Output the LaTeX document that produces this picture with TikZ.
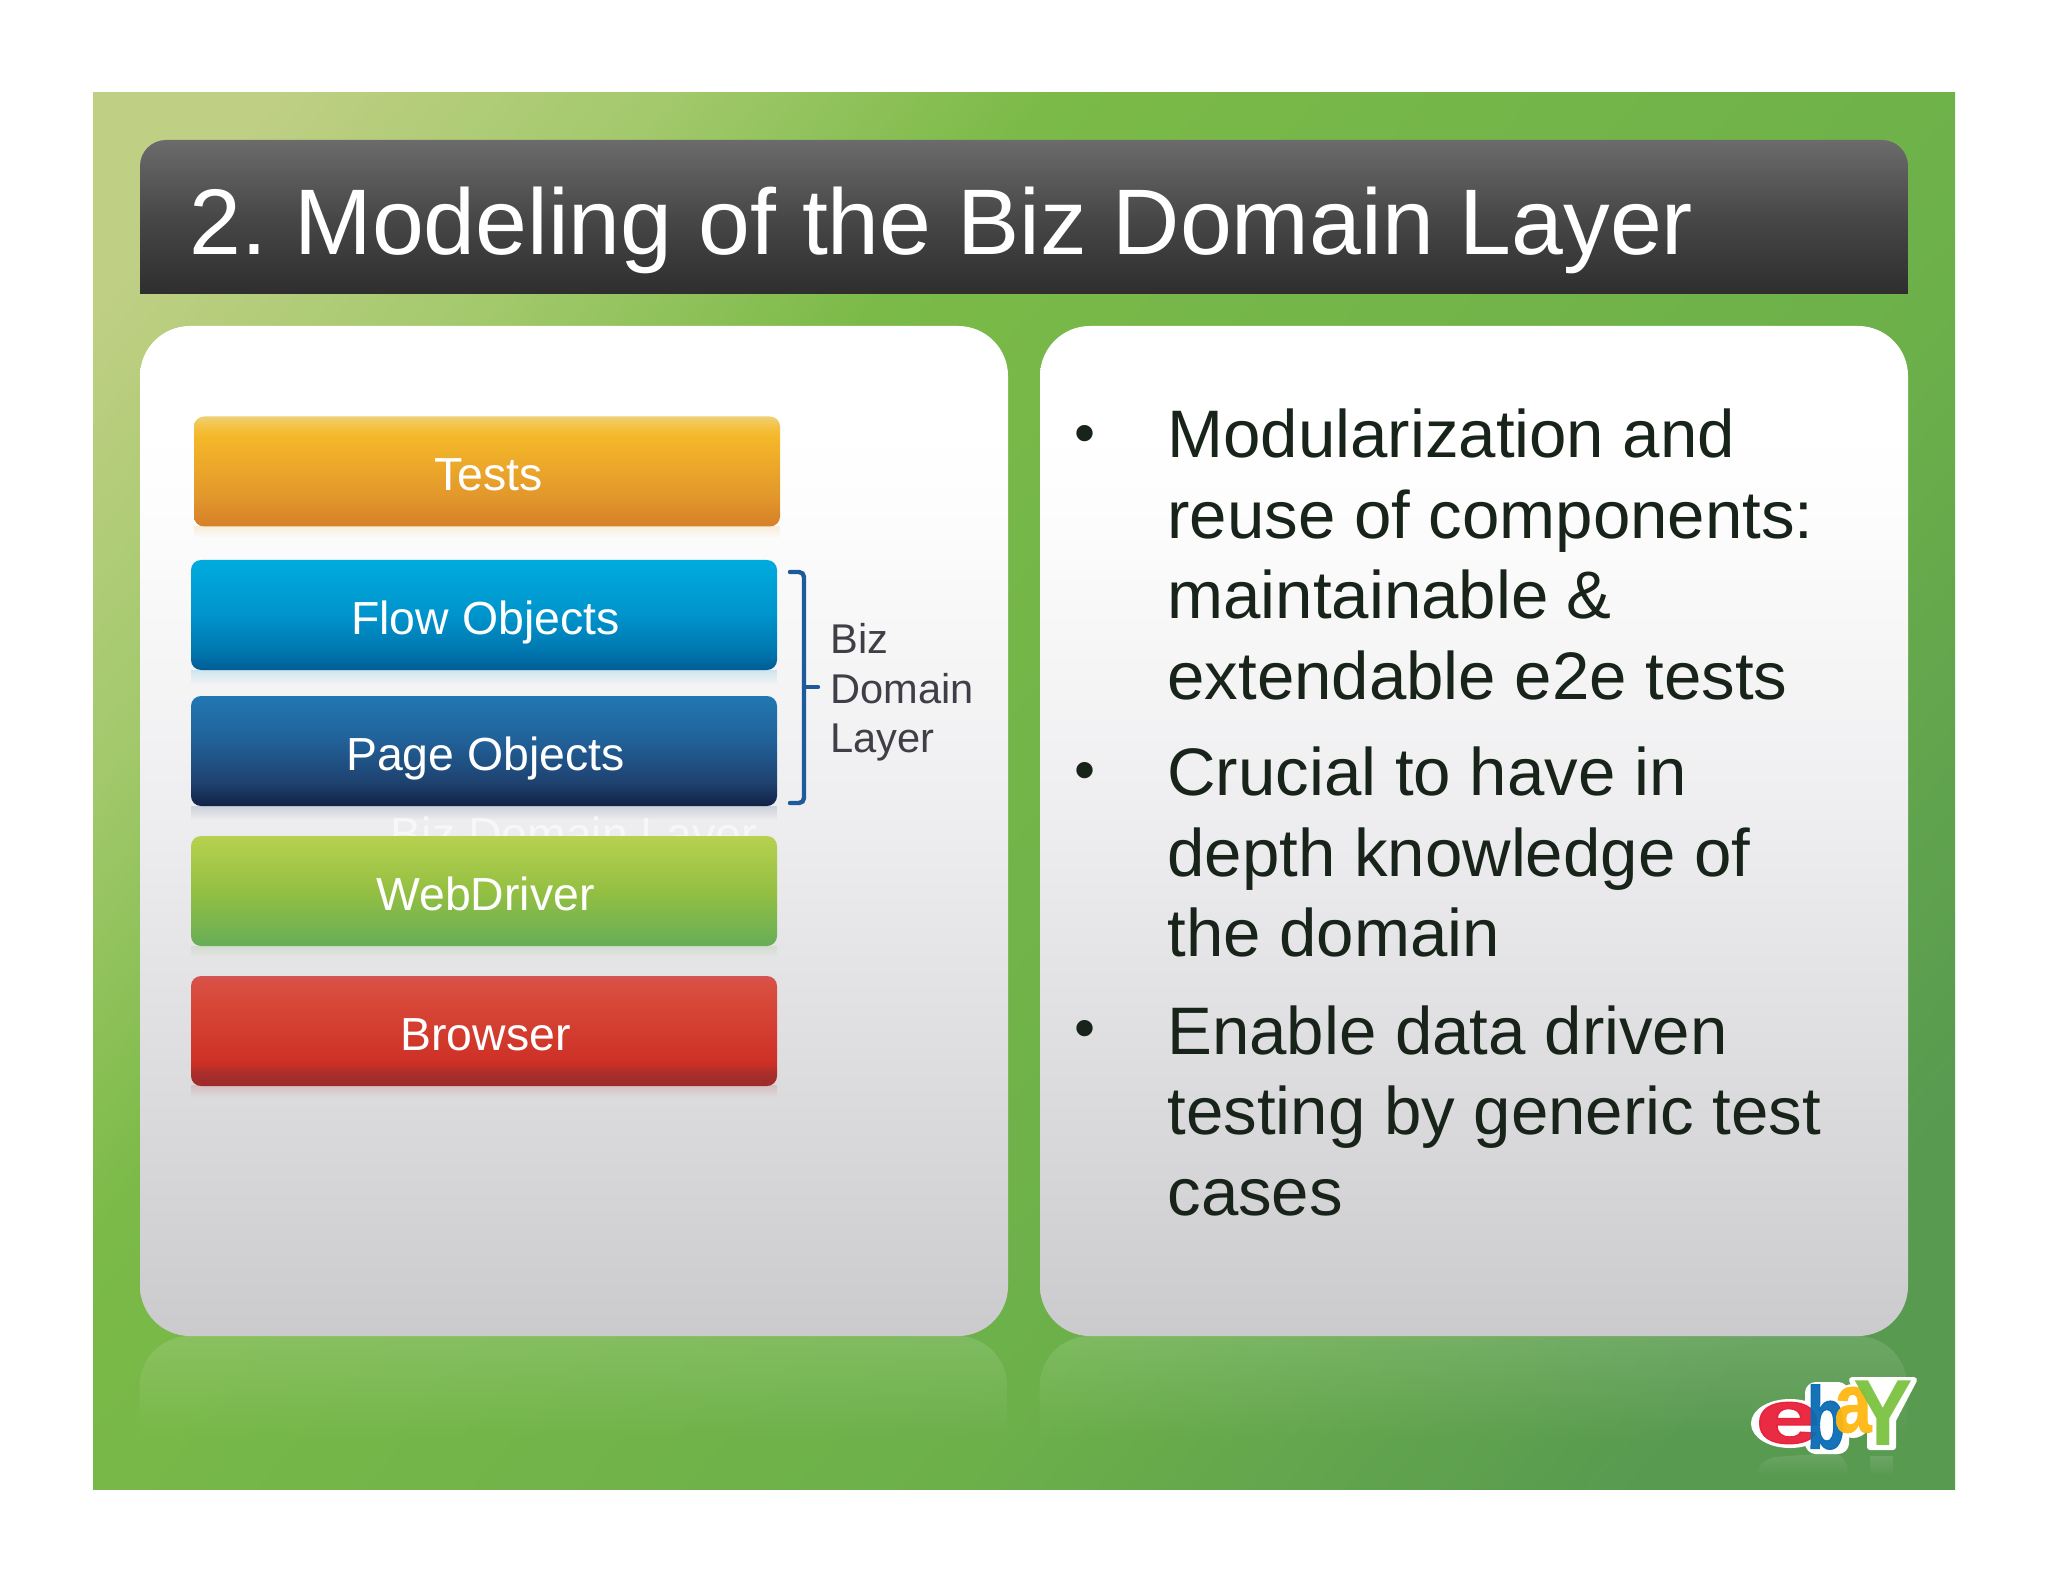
\documentclass[tikz,border=0pt]{standalone}
\usepackage{fontspec}
\usepackage{graphicx}
\setmainfont{Liberation Sans}
\usetikzlibrary{fadings}
% --- colours
\definecolor{bgA}{HTML}{BFCF84}\definecolor{bgB}{HTML}{A3C96C}\definecolor{bgC}{HTML}{7BBA48}\definecolor{bgD}{HTML}{6CB04A}\definecolor{bgE}{HTML}{589A50}
\definecolor{bodyink}{HTML}{18241A}
\definecolor{labelink}{HTML}{3F3F47}
\definecolor{bracketblue}{HTML}{1F5A9A}
\definecolor{testtint}{HTML}{E8A030}
\definecolor{flowtint}{HTML}{0090C8}
\definecolor{pagetint}{HTML}{1C4070}
\definecolor{webtint}{HTML}{80B050}
\definecolor{browsertint}{HTML}{C03028}
\definecolor{ghostink}{HTML}{F7F7F8}
\definecolor{logored}{HTML}{E8203A}
\definecolor{logoblue}{HTML}{0A6CB4}
\definecolor{logoyellow}{HTML}{FFB812}
\definecolor{logogreen}{HTML}{7CC242}
\definecolor{panelA}{HTML}{CBCACD}\definecolor{panelB}{HTML}{DCDCDE}\definecolor{panelC}{HTML}{EDEDEF}\definecolor{panelD}{HTML}{FDFDFD}
% --- shadings: the path fills the range 25bp..75bp
\pgfdeclareverticalshading{bgshade}{100bp}{color(0bp)=(bgE);color(22bp)=(bgE);color(38bp)=(bgD);color(63bp)=(bgC);color(72bp)=(bgB);color(81bp)=(bgA);color(100bp)=(bgA)}
\pgfdeclareverticalshading{titleshade}{100bp}{color(0bp)=(black!82);color(25bp)=(black!82);color(50bp)=(black!72);color(75bp)=(black!58);color(100bp)=(black!58)}
\pgfdeclareverticalshading{panelshade}{100bp}{color(0bp)=(panelA);color(25bp)=(panelA);color(37.5bp)=(panelB);color(50bp)=(panelC);color(66bp)=(panelD);color(70bp)=(white);color(100bp)=(white)}
\pgfdeclareverticalshading{testsshade}{100bp}{rgb(0bp)=(.84,.50,.16);rgb(25bp)=(.84,.50,.16);rgb(40bp)=(.89,.60,.17);rgb(66bp)=(.96,.72,.16);rgb(70bp)=(.96,.75,.25);rgb(75bp)=(.93,.82,.45);rgb(100bp)=(.93,.82,.45)}
\pgfdeclareverticalshading{flowshade}{100bp}{rgb(0bp)=(0,.36,.58);rgb(25bp)=(0,.36,.58);rgb(33bp)=(0,.46,.68);rgb(50bp)=(0,.58,.80);rgb(75bp)=(0,.67,.87);rgb(100bp)=(0,.67,.87)}
\pgfdeclareverticalshading{pageshade}{100bp}{rgb(0bp)=(.07,.13,.27);rgb(25bp)=(.07,.13,.27);rgb(36bp)=(.12,.26,.44);rgb(55bp)=(.13,.38,.60);rgb(75bp)=(.13,.47,.70);rgb(100bp)=(.13,.47,.70)}
\pgfdeclareverticalshading{webshade}{100bp}{rgb(0bp)=(.40,.68,.34);rgb(25bp)=(.40,.68,.34);rgb(50bp)=(.58,.75,.26);rgb(75bp)=(.72,.82,.31);rgb(100bp)=(.72,.82,.31)}
\pgfdeclareverticalshading{browsershade}{100bp}{rgb(0bp)=(.61,.17,.17);rgb(25bp)=(.61,.17,.17);rgb(30bp)=(.65,.18,.17);rgb(36bp)=(.81,.19,.15);rgb(60bp)=(.84,.27,.21);rgb(72bp)=(.85,.31,.26);rgb(75bp)=(.83,.33,.33);rgb(100bp)=(.83,.33,.33)}
\newcommand{\barlabel}[1]{\raisebox{-9.5pt}[0pt][0pt]{\hspace*{1.4pt}#1}}
\tikzset{
  barbox/.style={minimum width=293pt,minimum height=55pt,inner sep=0pt,rounded corners=5pt,text=white,font=\fontsize{23.2}{27}\selectfont},
  barglow/.style={path fading=south,opacity=.16},
  panelbox/.style={minimum width=434pt,minimum height=505pt,inner sep=0pt,rounded corners=25pt,shading=panelshade},
  mirror/.style={fill=white,path fading=south,opacity=.13},
  bodytext/.style={anchor=north west,inner sep=0pt,align=left,text=bodyink,font=\fontsize{33.6}{40.25}\selectfont},
  bulletmark/.style={inner sep=0pt,text=bodyink,font=\fontsize{30}{30}\selectfont},
  sidetext/.style={anchor=north west,inner sep=0pt,align=left,text=labelink,font=\fontsize{20.8}{24.8}\selectfont},
  logoletter/.style={inner sep=0pt,opacity=.95}
}
\begin{document}
\begin{tikzpicture}[x=.5pt,y=-.5pt]
\useasboundingbox (0,0) rectangle (2048,1582);
\fill[white] (0,0) rectangle (2048,1582);
% slide background
\shade[shading=bgshade,shading angle=50] (93,93) rectangle (1955,1489);
% title bar
\shade[shading=titleshade] (140,294) [rounded corners=13pt] -- (140,140) -- (1908,140) [sharp corners] -- (1908,294) -- cycle;
\node[anchor=base west,inner sep=0pt,text=white,font=\fontsize{46.6}{50}\selectfont] (title) at (189,255) {2.\kern-3.6pt{} Modeling of the Biz Domain Layer};
% panel reflections
\fill[mirror] (140,1440) [rounded corners=25pt] -- (140,1336) -- (1008,1336) [sharp corners] -- (1008,1440) -- cycle;
\fill[mirror] (1040,1440) [rounded corners=25pt] -- (1040,1336) -- (1908,1336) [sharp corners] -- (1908,1440) -- cycle;
% panels
\node[panelbox] (leftpanel) at (574,831) {};
\node[panelbox] (rightpanel) at (1474,831) {};
% bar reflections
\fill[testtint,barglow] (194,526) rectangle (780,538);
\fill[flowtint,barglow] (191,670) rectangle (777,684);
\fill[pagetint,barglow] (191,806) rectangle (777,820);
\fill[webtint,barglow] (191,946) rectangle (777,958);
\fill[browsertint,barglow] (191,1085) rectangle (777,1097);
% ghost label, mostly hidden by the WebDriver bar
\node[anchor=base,inner sep=0pt,text=ghostink,font=\fontsize{23.2}{27}\selectfont] (ghost) at (574,850) {Biz Domain Layer};
% bars
\node[barbox,shading=testsshade] (tests) at (487,471.5) {\barlabel{Tests}};
\node[barbox,shading=flowshade] (flow) at (484,615) {\barlabel{Flow Objects}};
\node[barbox,shading=pageshade] (page) at (484,751) {\barlabel{Page Objects}};
\node[barbox,shading=webshade] (web) at (484,891) {\barlabel{WebDriver}};
\node[barbox,shading=browsershade] (browser) at (484,1031) {\barlabel{Browser}};
% bracket
\coordinate (brTop) at (790,572);
\coordinate (brBot) at (790,803);
\coordinate (brTip) at (818,687);
\draw[bracketblue,line width=2.2pt,line cap=round,rounded corners=2.5pt] (brTop) -- (804,572) -- (804,803) -- (brBot);
\draw[bracketblue,line width=2.2pt,line cap=round] (804,687) -- (brTip);
\node[sidetext] (side) at (830,623) {Biz\\Domain\\Layer};
% bullets
\node[bulletmark] (b1) at (1085,439) {•};
\node[bulletmark] (b2) at (1085,776) {•};
\node[bulletmark] (b3) at (1085,1034) {•};
\node[bodytext] (t1) at (1167,408.5) {Modularization and\\reuse of components:\\maintainable \&\\extendable e2e tests};
\node[bodytext] (t2) at (1167,746.5) {Crucial to have in\\depth knowledge of\\the domain};
\node[bodytext] (t3) at (1167,1005) {Enable data driven\\testing by generic test\\cases};
% logo reflection
\fill[white,path fading=south,opacity=.12] (1756,1476) [rounded corners=8pt] -- (1760,1458) -- (1846,1452) [sharp corners] -- (1848,1476) -- cycle;
\fill[white,path fading=south,opacity=.12] (1870,1456) rectangle (1893,1476);
% logo
\fill[white,draw=white,line width=3pt] (1790,1423.5) ellipse[x radius=36,y radius=21.5];
\fill[white,draw=white,line width=3pt,rounded corners=4pt] (1808,1385) rectangle (1846,1451);
\fill[white,draw=white,line width=3pt] (1853,1411) ellipse[x radius=18,y radius=24];
\fill[white,draw=white,line width=3pt,line join=round] (1852,1380) -- (1914,1380) -- (1893,1420) -- (1893,1447) -- (1870,1447) -- (1870,1420) -- cycle;
\node[logoletter,text=logored] (le) at (1788,1423) {\fontsize{38}{38}\selectfont\bfseries\addfontfeature{FakeBold=1.5}\scalebox{1.55}[1]{e}};
\node[logoletter,text=logoblue] (lb) at (1826,1417) {\fontsize{44}{44}\selectfont\bfseries\addfontfeature{FakeBold=1.5}\scalebox{.72}[1]{b}};
\node[logoletter,text=logoyellow] (la) at (1853,1410) {\fontsize{42}{42}\selectfont\bfseries\addfontfeature{FakeBold=1}\scalebox{.8}[1]{a}};
\node[logoletter,text=logogreen] (ly) at (1883,1413) {\fontsize{47}{47}\selectfont\bfseries\scalebox{.95}[1]{Y}};
\end{tikzpicture}
\end{document}
